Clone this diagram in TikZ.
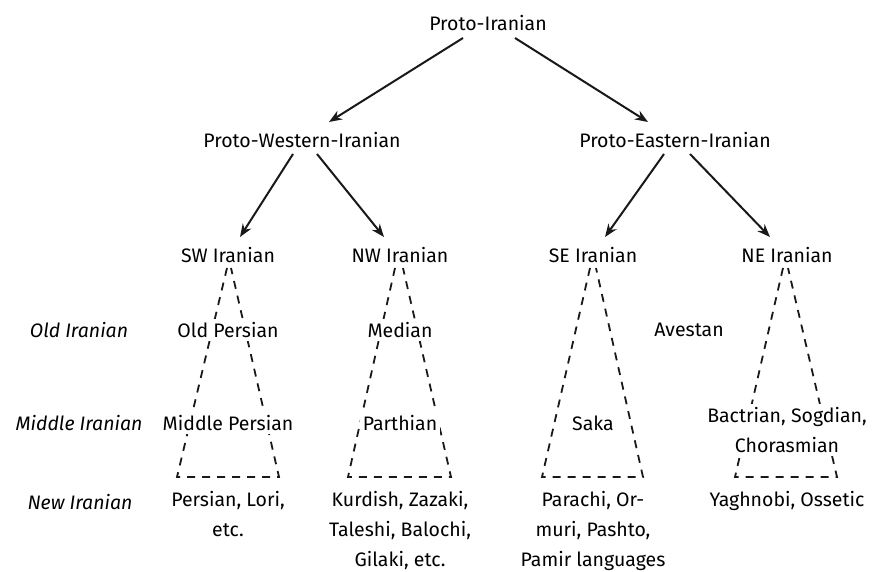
\documentclass[tikz,border=0pt]{standalone}
\usepackage{fontspec}
\setmainfont{Fira Sans}
\usetikzlibrary{arrows.meta,backgrounds}
\begin{document}
\begin{tikzpicture}[x=1pt,y=-1pt,
  lbl/.style={font=\fontsize{19.5}{30}\selectfont, text=black, fill=white, inner sep=3pt, align=center},
  rowlbl/.style={font=\fontsize{19.5}{30}\selectfont\itshape, text=black, inner sep=2pt},
  multi/.style={lbl, anchor=north},
  arr/.style={line width=2pt, black!90, -{Stealth[length=13pt,width=10pt]}},
  dsh/.style={line width=1.8pt, dash pattern=on 8pt off 7pt, black!90}]
\useasboundingbox (0,0) rectangle (873,572);
% top levels
\node[lbl] (PI) at (488,23) {Proto-Iranian};
\node[lbl] (PWI) at (302,140) {Proto-Western-Iranian};
\node[lbl] (PEI) at (675,140) {Proto-Eastern-Iranian};
\node[lbl] (SW) at (228,255) {SW Iranian};
\node[lbl] (NW) at (400,255) {NW Iranian};
\node[lbl] (SE) at (593,255) {SE Iranian};
\node[lbl] (NE) at (787,255) {NE Iranian};
% row labels
\node[rowlbl] (rOld) at (79,330) {Old Iranian};
\node[rowlbl] (rMid) at (79,423) {Middle Iranian};
\node[rowlbl] (rNew) at (80,502) {New Iranian};
% old
\node[lbl] (OP) at (228,330) {Old Persian};
\node[lbl] (Med) at (400,330) {Median};
\node[lbl] (Av) at (689,330) {Avestan};
% middle
\node[lbl] (MP) at (228,423) {Middle Persian};
\node[lbl] (Par) at (400,423) {Parthian};
\node[lbl] (Saka) at (593,423) {Saka};
\node[multi] (Bac) at (787,404) {Bactrian, Sogdian,\\Chorasmian};
% new
\node[multi, fill=none] (Pers) at (228,488) {Persian, Lori,\\etc.};
\node[multi, fill=none] (Kurd) at (400,488) {Kurdish, Zazaki,\\Taleshi, Balochi,\\Gilaki, etc.};
\node[multi, fill=none] (Para) at (593,488) {Parachi, Or-\\muri, Pashto,\\Pamir languages};
\node[multi, fill=none] (Yag) at (787,488) {Yaghnobi, Ossetic};
% arrows
\draw[arr] ([shift={(-25,15)}]PI.center) -- ([shift={(27,-18)}]PWI.center);
\draw[arr] ([shift={(27,15)}]PI.center) -- ([shift={(-27,-18)}]PEI.center);
\draw[arr] ([shift={(-9,14)}]PWI.center) -- ([shift={(12,-18)}]SW.center);
\draw[arr] ([shift={(15,14)}]PWI.center) -- ([shift={(-16,-18)}]NW.center);
\draw[arr] ([shift={(-11,14)}]PEI.center) -- ([shift={(12,-18)}]SE.center);
\draw[arr] ([shift={(15,14)}]PEI.center) -- ([shift={(-17,-18)}]NE.center);
% dashed trapezoids
\begin{scope}[on background layer]
\draw[dsh] ([shift={(-1,13)}]SW.center) -- ([shift={(-51,222)}]SW.center) -- ([shift={(51,222)}]SW.center) -- ([shift={(3,13)}]SW.center);
\draw[dsh] ([shift={(-5,13)}]NW.center) -- ([shift={(-52,222)}]NW.center) -- ([shift={(51,222)}]NW.center) -- ([shift={(3,13)}]NW.center);
\draw[dsh] ([shift={(-3,13)}]SE.center) -- ([shift={(-51,222)}]SE.center) -- ([shift={(50,222)}]SE.center) -- ([shift={(3,13)}]SE.center);
\draw[dsh] ([shift={(-4,13)}]NE.center) -- ([shift={(-52,222)}]NE.center) -- ([shift={(50,222)}]NE.center) -- ([shift={(1,13)}]NE.center);
\end{scope}
\end{tikzpicture}
\end{document}
